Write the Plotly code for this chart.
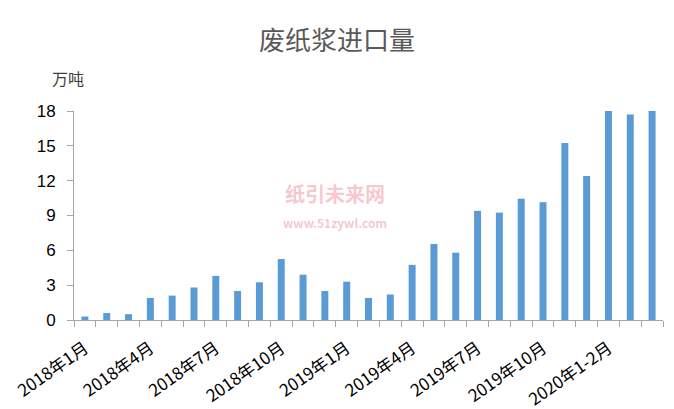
import plotly.graph_objects as go

months = ["2018年1月","2018年2月","2018年3月","2018年4月","2018年5月","2018年6月",
          "2018年7月","2018年8月","2018年9月","2018年10月","2018年11月","2018年12月",
          "2019年1月","2019年2月","2019年3月","2019年4月","2019年5月","2019年6月",
          "2019年7月","2019年8月","2019年9月","2019年10月","2019年11月","2019年12月",
          "2020年1-2月","2020年3月","2020年4月"]
values = [0.3, 0.6, 0.5, 1.9, 2.1, 2.8, 3.8, 2.5, 3.25, 5.25, 3.9, 2.5,
          3.3, 1.9, 2.2, 4.75, 6.55, 5.8, 9.4, 9.25, 10.45, 10.15, 15.25, 12.4,
          18.0, 17.7, 18.0]
shown_labels = ["2018年1月","2018年4月","2018年7月","2018年10月","2019年1月",
                "2019年4月","2019年7月","2019年10月","2020年1-2月"]
y_ticks = [0, 3, 6, 9, 12, 15, 18]

ticktext = [m if m in shown_labels else "" for m in months]

fig = go.Figure()
fig.add_trace(go.Bar(x=months, y=values, marker=dict(color="#5B9BD5", line=dict(width=0)),
                     showlegend=False))

# the page body adds an 8px offset; margins compensate for it
fig.update_layout(
    width=674, height=409,
    margin=dict(l=66, r=19, t=103, b=97, autoexpand=False),
    paper_bgcolor="white", plot_bgcolor="white",
    bargap=0.68,
    font=dict(family="Noto Sans CJK SC, Liberation Sans, sans-serif", color="#000000"),
    title=dict(text="废纸浆进口量", x=0.488, xanchor="center", y=0.92, yanchor="middle",
               font=dict(size=26, color="#595959", family="Noto Sans CJK SC")),
    xaxis=dict(type="category", tickmode="array", tickvals=months, ticktext=ticktext,
               tickangle=-35, tickson="boundaries", ticks="outside", ticklen=6,
               tickcolor="#A6A6A6", showline=True, linecolor="#A6A6A6", linewidth=1,
               showgrid=False, automargin=False, ticklabelstandoff=11,
               tickfont=dict(size=17, color="#000000")),
    yaxis=dict(range=[0, 18], tickvals=y_ticks, ticks="outside", ticklen=6,
               tickcolor="#A6A6A6", showline=True, linecolor="#A6A6A6", linewidth=1,
               showgrid=False, zeroline=False, ticklabelstandoff=8, automargin=False,
               tickfont=dict(size=17, color="#000000", family="Liberation Sans")),
    annotations=[
        dict(text="万吨", xref="paper", yref="paper", x=-0.04, y=1.158, xanchor="left",
             yanchor="middle", showarrow=False, font=dict(size=16, color="#404040")),
        dict(text="<b>纸引未来网</b><br><b><span style='font-size:12px'>www.51zywl.com</span></b>",
             xref="paper", yref="paper", x=0.443, y=0.55, xanchor="center", yanchor="middle",
             showarrow=False, font=dict(size=20, color="rgba(232,110,130,0.4)")),
    ],
)

fig.write_html("out.html")
